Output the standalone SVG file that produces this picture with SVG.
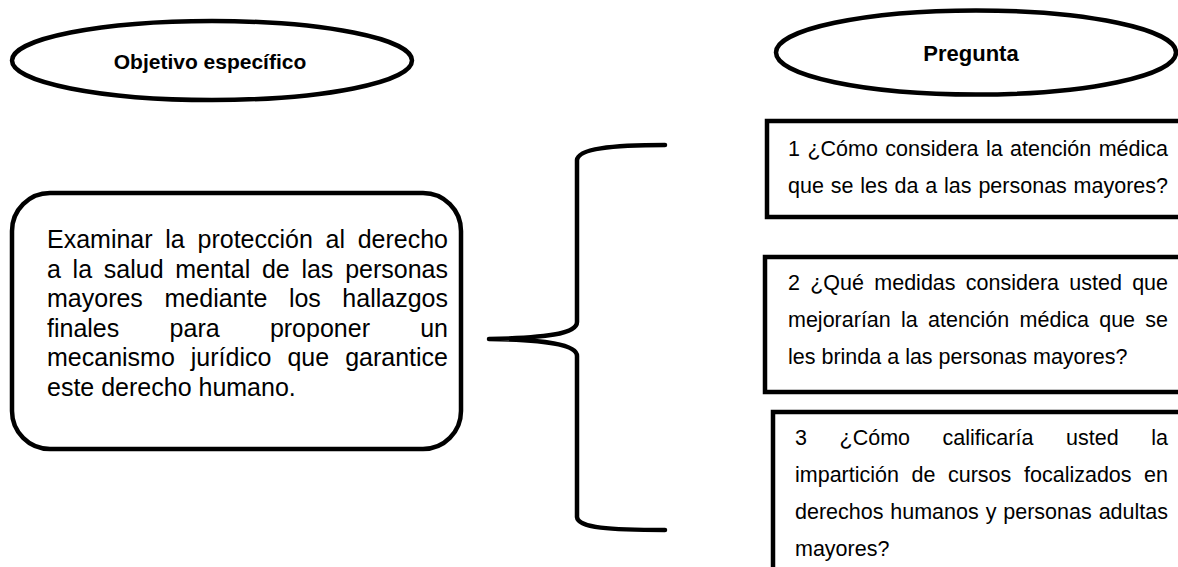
<svg xmlns="http://www.w3.org/2000/svg" width="1178" height="567" viewBox="0 0 1178 567">
<style>
.shape{fill:#fff;stroke:#000;stroke-width:4.5}
.hdr{font-family:"Liberation Sans",Arial,sans-serif;font-weight:bold;fill:#000}
.body{font-family:"Liberation Sans",Arial,sans-serif;font-size:25px;fill:#000}
.q{font-family:"Liberation Sans",Arial,sans-serif;font-size:21.5px;fill:#000}
.e{text-anchor:end}
.brace{fill:none;stroke:#000;stroke-width:4.5;stroke-linecap:round;stroke-linejoin:round}
</style>
<rect width="1178" height="567" fill="#fff"/>
<g id="header-objetivo">
<ellipse class="shape" cx="212" cy="60.5" rx="200" ry="39.5"/>
<text class="hdr" x="210" y="69" font-size="21" text-anchor="middle">Objetivo específico</text>
</g>
<g id="header-pregunta">
<ellipse class="shape" cx="976" cy="52.5" rx="200" ry="42"/>
<text class="hdr" x="971" y="61" font-size="22" text-anchor="middle">Pregunta</text>
</g>
<g id="objetivo">
<rect class="shape" x="12" y="193" width="449" height="256" rx="38" ry="38"/>
<text class="body" y="248"><tspan x="47">Examinar</tspan><tspan x="165.3">la</tspan><tspan x="197.5">protección</tspan><tspan x="325.5">al</tspan></text>
<text class="body e" x="448" y="248">derecho</text>
<text class="body" y="277.5"><tspan x="47">a</tspan><tspan x="72.6">la</tspan><tspan x="103.8">salud</tspan><tspan x="175.2">mental</tspan><tspan x="261.9">de</tspan><tspan x="301.4">las</tspan></text>
<text class="body e" x="448" y="277.5">personas</text>
<text class="body" y="307"><tspan x="47">mayores</tspan><tspan x="164.5">mediante</tspan><tspan x="288.9">los</tspan></text>
<text class="body e" x="448" y="307">hallazgos</text>
<text class="body" y="336.5"><tspan x="47">finales</tspan><tspan x="169.6">para</tspan><tspan x="269.9">proponer</tspan></text>
<text class="body e" x="448" y="336.5">un</text>
<text class="body" y="366"><tspan x="47">mecanismo</tspan><tspan x="190.8">jurídico</tspan><tspan x="287.4">que</tspan></text>
<text class="body e" x="448" y="366">garantice</text>
<text class="body" x="47" y="395.5">este derecho humano.</text>
</g>
<g id="pregunta-1">
<rect class="shape" x="767" y="121" width="430" height="96"/>
<text class="q" y="156"><tspan x="788">1</tspan><tspan x="807.4">¿Cómo</tspan><tspan x="885.3">considera</tspan><tspan x="985.9">la</tspan><tspan x="1010">atención</tspan></text>
<text class="q e" x="1168" y="156">médica</text>
<text class="q" y="193"><tspan x="788">que</tspan><tspan x="830.7">se</tspan><tspan x="860.2">les</tspan><tspan x="894.5">da</tspan><tspan x="925.3">a</tspan><tspan x="944.1">las</tspan><tspan x="978.4">personas</tspan></text>
<text class="q e" x="1168" y="193">mayores?</text>
</g>
<g id="pregunta-2">
<rect class="shape" x="765" y="257" width="430" height="135"/>
<text class="q" y="290"><tspan x="788">2</tspan><tspan x="810.2">¿Qué</tspan><tspan x="874.3">medidas</tspan><tspan x="965.8">considera</tspan><tspan x="1069.3">usted</tspan></text>
<text class="q e" x="1168" y="290">que</text>
<text class="q" y="327"><tspan x="788">mejorarían</tspan><tspan x="901">la</tspan><tspan x="928">atención</tspan><tspan x="1019.6">médica</tspan><tspan x="1099.2">que</tspan></text>
<text class="q e" x="1168" y="327">se</text>
<text class="q" x="788" y="364">les brinda a las personas mayores?</text>
</g>
<g id="pregunta-3">
<rect class="shape" x="773" y="412" width="430" height="200"/>
<text class="q" y="445"><tspan x="795">3</tspan><tspan x="839.6">¿Cómo</tspan><tspan x="942.6">calificaría</tspan><tspan x="1066">usted</tspan></text>
<text class="q e" x="1168" y="445">la</text>
<text class="q" y="482"><tspan x="795">impartición</tspan><tspan x="911.5">de</tspan><tspan x="948">cursos</tspan><tspan x="1024">focalizados</tspan></text>
<text class="q e" x="1168" y="482">en</text>
<text class="q" y="519"><tspan x="795">derechos</tspan><tspan x="890.3">humanos</tspan><tspan x="985.7">y</tspan><tspan x="1003.3">personas</tspan></text>
<text class="q e" x="1168" y="519">adultas</text>
<text class="q" x="795" y="556">mayores?</text>
</g>
<g id="connectors">
<path class="brace" d="M665,145 C610,145 578,149 577,160 L577,322 C577,334 545,338 489,339 C545,340 577,344 577,356 L577,517 C578,528 610,530 665,530"/>
</g>
</svg>
